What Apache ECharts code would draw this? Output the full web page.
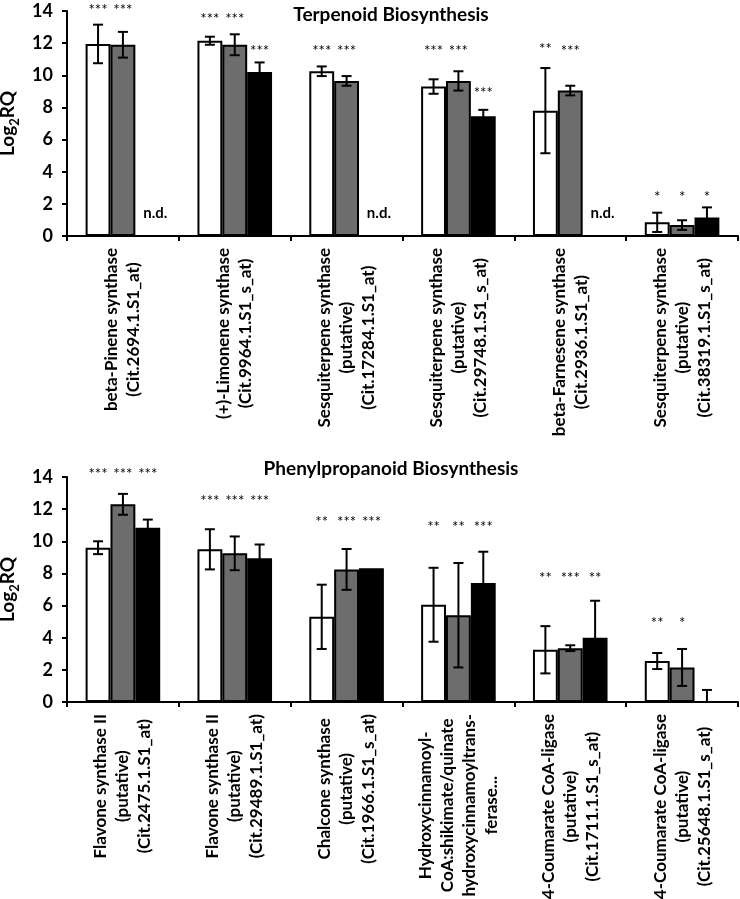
<!DOCTYPE html>
<html>
<head>
<meta charset="utf-8">
<script src="https://cdn.jsdelivr.net/npm/echarts@6/dist/echarts.min.js"></script>
<style>
  html, body { margin: 0; padding: 0; background: #fff; }
  #chart { width: 740px; height: 899px; }
</style>
</head>
<body>
<div id="chart"></div>
<script>
// ---- data ----
const terpCategories = [
  "beta-Pinene synthase\n(Cit.2694.1.S1_at)",
  "(+)-Limonene synthase\n(Cit.9964.1.S1_s_at)",
  "Sesquiterpene synthase\n(putative)\n(Cit.17284.1.S1_at)",
  "Sesquiterpene synthase\n(putative)\n(Cit.29748.1.S1_s_at)",
  "beta-Farnesene synthase\n(Cit.2936.1.S1_at)",
  "Sesquiterpene synthase\n(putative)\n(Cit.38319.1.S1_s_at)"
];
const terpWhite = [11.95, 12.15, 10.25, 9.3, 7.8, 0.85];
const terpWhiteErr = [1.2, 0.25, 0.3, 0.45, 2.65, 0.6];
const terpGrey = [11.9, 11.9, 9.65, 9.65, 9.05, 0.68];
const terpGreyErr = [0.8, 0.65, 0.3, 0.6, 0.3, 0.3];
const terpBlack = [null, 10.2, null, 7.45, null, 1.15];
const terpBlackErr = [null, 0.6, null, 0.4, null, 0.63];
const terpWhiteSig = ["***", "***", "***", "***", "**", "*"];
const terpGreySig = ["***", "***", "***", "***", "***", "*"];
const terpBlackSig = ["n.d.", "***", "n.d.", "***", "n.d.", "*"];
const terpWhiteSigAt = [14.05, 13.5, 11.5, 11.5, 11.6, 2.4];
const terpGreySigAt = [14.05, 13.5, 11.5, 11.5, 11.5, 2.4];
const terpBlackSigAt = [1.4, 11.5, 1.4, 8.9, 1.4, 2.4];

const phenCategories = [
  "Flavone synthase II\n(putative)\n(Cit.2475.1.S1_at)",
  "Flavone synthase II\n(putative)\n(Cit.29489.1.S1_at)",
  "Chalcone synthase\n(putative)\n(Cit.1966.1.S1_s_at)",
  "Hydroxycinnamoyl-\nCoA:shikimate/quinate\nhydroxycinnamoyltrans-\nferase...",
  "4-Coumarate CoA-ligase\n(putative)\n(Cit.1711.1.S1_s_at)",
  "4-Coumarate CoA-ligase\n(putative)\n(Cit.25648.1.S1_s_at)"
];
const phenWhite = [9.6, 9.5, 5.3, 6.05, 3.25, 2.55];
const phenWhiteErr = [0.4, 1.25, 2.0, 2.3, 1.47, 0.5];
const phenGrey = [12.3, 9.25, 8.25, 5.4, 3.35, 2.15];
const phenGreyErr = [0.65, 1.05, 1.27, 3.25, 0.18, 1.15];
const phenBlack = [10.85, 8.95, 8.33, 7.4, 4.0, 0];
const phenBlackErr = [0.5, 0.85, 0, 1.95, 2.3, 0.75];
const phenWhiteSig = ["***", "***", "**", "**", "**", "**"];
const phenGreySig = ["***", "***", "***", "**", "***", "*"];
const phenBlackSig = ["***", "***", "***", "***", "**", ""];
const phenSigAt = [14.2, 12.5, 11.2, 10.9, 7.7, 4.9];

const yTicks = [0, 2, 4, 6, 8, 10, 12, 14];

// ---- styling ----
const FONT = "Lato, 'Open Sans', sans-serif";
const CAT_GAP = 0.333;
const barColors = ["#ffffff", "#6d6d6d", "#000000"];

function makeBar(values, idx, gridIdx) {
  return {
    type: "bar",
    xAxisIndex: gridIdx,
    yAxisIndex: gridIdx,
    data: values,
    barGap: "0%",
    barCategoryGap: "33.3%",
    itemStyle: { color: barColors[idx], borderColor: "#000", borderWidth: 2 },
    z: 2
  };
}

// error bar + significance label, placed through the axis scales
function makeErr(values, errs, sigs, sigAt, idx, gridIdx) {
  return {
    type: "custom",
    xAxisIndex: gridIdx,
    yAxisIndex: gridIdx,
    z: 5,
    data: values.map((v, i) => [i, v == null ? 0 : v, errs[i] || 0, sigAt[i]]),
    renderItem(params, api) {
      const i = api.value(0);
      const v = api.value(1);
      const e = api.value(2);
      const band = api.size([1, 0])[0];
      const barW = (band * (1 - CAT_GAP)) / 3;
      const cx = api.coord([i, v])[0] + (idx - 1) * barW;
      const children = [];
      if (e > 0) {
        const yTop = api.coord([i, v + e])[1];
        const yBot = api.coord([i, Math.max(v - e, 0)])[1];
        const cap = 5;
        const line = { stroke: "#000", lineWidth: 2 };
        children.push(
          { type: "line", shape: { x1: cx, y1: yTop, x2: cx, y2: yBot }, style: line },
          { type: "line", shape: { x1: cx - cap, y1: yTop, x2: cx + cap, y2: yTop }, style: line }
        );
        if (v - e > 0) {
          children.push({ type: "line", shape: { x1: cx - cap, y1: yBot, x2: cx + cap, y2: yBot }, style: line });
        }
      }
      const txt = sigs[params.dataIndex];
      if (txt) {
        const nd = txt === "n.d.";
        const p = api.coord([i, api.value(3)]);
        children.push({
          type: "text",
          x: nd ? cx + barW * 0.3 : cx,
          y: p[1],
          style: {
            text: txt,
            font: nd ? "bold 15px " + FONT : "15px " + FONT,
            fill: "#000",
            textAlign: "center",
            textVerticalAlign: "middle",
            align: "center",
            verticalAlign: "middle"
          }
        });
      }
      return { type: "group", children };
    }
  };
}

function xAxisFor(categories, gridIdx) {
  return {
    type: "category",
    gridIndex: gridIdx,
    data: categories,
    axisLine: { lineStyle: { color: "#000", width: 2 } },
    axisTick: { show: true, interval: 0, length: 5, lineStyle: { color: "#000", width: 2 } },
    axisLabel: {
      interval: 0,
      rotate: 90,
      margin: 12,
      formatter: v => v.split("\n").map(l => "{c|" + l + "}").join("\n"),
      rich: {
        c: { align: "center", fontFamily: FONT, fontWeight: "bold", fontSize: 17, lineHeight: 22, color: "#000" }
      }
    }
  };
}

function yAxisFor(gridIdx) {
  return {
    type: "value",
    gridIndex: gridIdx,
    min: yTicks[0],
    max: yTicks[yTicks.length - 1],
    interval: yTicks[1] - yTicks[0],
    name: "Log{s|2}RQ",
    nameLocation: "middle",
    nameGap: 42,
    nameTextStyle: {
      fontFamily: FONT,
      fontWeight: "bold",
      fontSize: 19,
      color: "#000",
      rich: {
        s: { fontFamily: FONT, fontWeight: "bold", fontSize: 13, color: "#000", verticalAlign: "bottom", lineHeight: 26 }
      }
    },
    splitLine: { show: false },
    axisLine: { show: true, lineStyle: { color: "#000", width: 2 } },
    axisTick: { show: true, length: 5, lineStyle: { color: "#000", width: 2 } },
    axisLabel: { fontFamily: FONT, fontWeight: "bold", fontSize: 18, color: "#000", margin: 14 }
  };
}

const chart = echarts.init(document.getElementById("chart"));
chart.setOption({
  animation: false,
  backgroundColor: "#fff",
  title: [
    { text: "Terpenoid Biosynthesis", left: 386, top: 0, textAlign: "center",
      textStyle: { fontFamily: FONT, fontWeight: "bold", fontSize: 19, color: "#000" } },
    { text: "Phenylpropanoid Biosynthesis", left: 386, top: 454, textAlign: "center",
      textStyle: { fontFamily: FONT, fontWeight: "bold", fontSize: 19, color: "#000" } }
  ],
  grid: [
    { left: 67, right: 2, top: 11, height: 225, outerBoundsMode: "none" },
    { left: 67, right: 2, top: 477, height: 225, outerBoundsMode: "none" }
  ],
  xAxis: [xAxisFor(terpCategories, 0), xAxisFor(phenCategories, 1)],
  yAxis: [yAxisFor(0), yAxisFor(1)],
  series: [
    makeBar(terpWhite, 0, 0),
    makeBar(terpGrey, 1, 0),
    makeBar(terpBlack, 2, 0),
    makeErr(terpWhite, terpWhiteErr, terpWhiteSig, terpWhiteSigAt, 0, 0),
    makeErr(terpGrey, terpGreyErr, terpGreySig, terpGreySigAt, 1, 0),
    makeErr(terpBlack, terpBlackErr, terpBlackSig, terpBlackSigAt, 2, 0),
    makeBar(phenWhite, 0, 1),
    makeBar(phenGrey, 1, 1),
    makeBar(phenBlack, 2, 1),
    makeErr(phenWhite, phenWhiteErr, phenWhiteSig, phenSigAt, 0, 1),
    makeErr(phenGrey, phenGreyErr, phenGreySig, phenSigAt, 1, 1),
    makeErr(phenBlack, phenBlackErr, phenBlackSig, phenSigAt, 2, 1)
  ]
});
</script>
</body>
</html>
